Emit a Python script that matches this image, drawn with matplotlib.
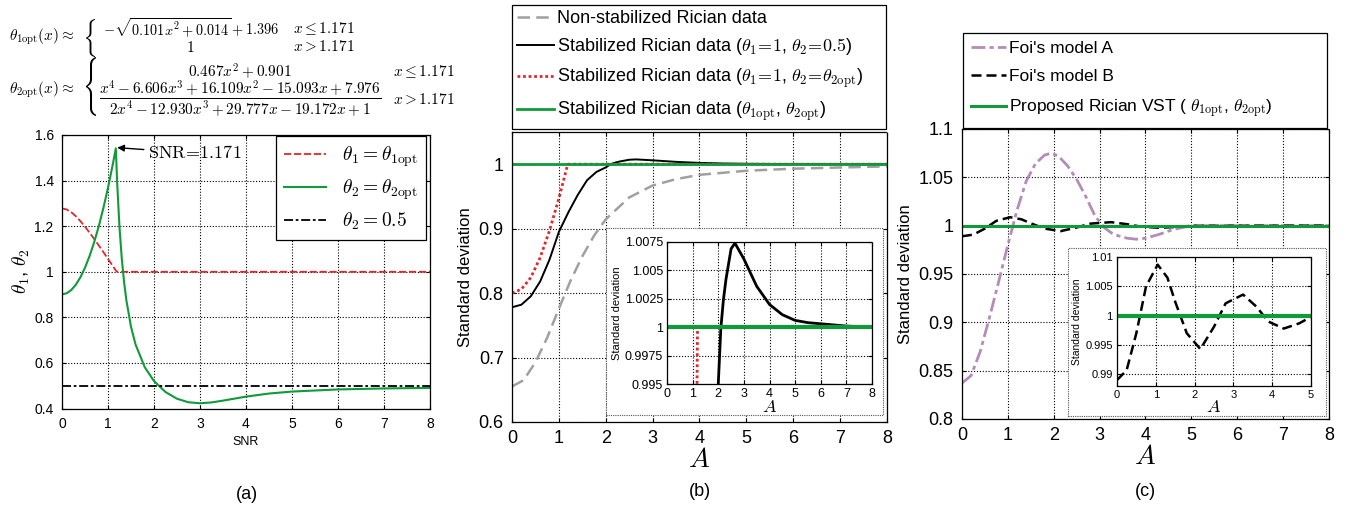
import matplotlib
matplotlib.use("Agg")
import matplotlib.pyplot as plt
from matplotlib.patches import Rectangle, PathPatch
from matplotlib.textpath import TextPath
from matplotlib.transforms import Affine2D, IdentityTransform
from matplotlib.ticker import FuncFormatter

plt.rcParams['font.family'] = ['Liberation Sans', 'DejaVu Sans']
plt.rcParams['mathtext.fontset'] = 'cm'

# ---- (a) optimal parameters vs SNR ----
snr_t1 = [0, 0.1, 0.2, 0.3, 0.4, 0.5, 0.6, 0.7, 0.8, 0.9, 1.0, 1.1, 1.171, 1.2, 8]
theta1_opt = [1.2777, 1.2735, 1.2617, 1.2440, 1.2223, 1.1979, 1.1716, 1.1440,
              1.1156, 1.0865, 1.0569, 1.0269, 1.0055, 1.0, 1.0]
snr_t2 = [0, 0.1, 0.2, 0.3, 0.4, 0.5, 0.6, 0.7, 0.8, 0.9, 1.0, 1.1, 1.171,
          1.2, 1.25, 1.3, 1.35, 1.4, 1.5, 1.6, 1.8, 2.0, 2.25, 2.5, 2.75, 3.0,
          3.25, 3.5, 4.0, 4.5, 5.0, 6.0, 7.0, 8.0]
theta2_opt = [0.901, 0.9057, 0.9197, 0.9430, 0.9757, 1.0178, 1.0691, 1.1298,
              1.1999, 1.2793, 1.368, 1.4661, 1.5414,
              1.3897, 1.1970, 1.0587, 0.9551, 0.8749, 0.7595, 0.6809, 0.5813,
              0.5209, 0.4728, 0.4433, 0.4277, 0.4234, 0.4270, 0.4349, 0.4525,
              0.4660, 0.4747, 0.4840, 0.4884, 0.4908]
snr_fixed = [0, 8]
theta2_fixed = [0.5, 0.5]

# ---- (b) standard deviation vs A ----
a_rice = [0, 0.25, 0.5, 0.75, 1.0, 1.25, 1.5, 1.75, 2.0, 2.5, 3.0, 3.5, 4.0, 5.0, 6.0, 7.0, 8.0]
std_rice = [0.6551, 0.6650, 0.6928, 0.7308, 0.7759, 0.8195, 0.8571, 0.8890, 0.9145,
            0.9484, 0.9669, 0.9768, 0.9835, 0.9898, 0.9930, 0.9949, 0.9965]
a_half = [0, 0.2, 0.4, 0.6, 0.8, 1.0, 1.2, 1.4, 1.6, 1.8, 2.0, 2.1, 2.2, 2.3, 2.5,
          2.65, 3.0, 3.5, 4.0, 4.5, 5.0, 5.5, 6.0, 7.0, 8.0]
std_half = [0.778, 0.782, 0.795, 0.818, 0.852, 0.895, 0.925, 0.952, 0.975, 0.988,
            0.9950, 0.9999, 1.0024, 1.0042, 1.0069, 1.0074, 1.0060, 1.0036, 1.0020,
            1.0011, 1.0006, 1.0004, 1.0003, 1.0001, 1.0000]
a_red = [0, 0.2, 0.4, 0.6, 0.8, 1.0, 1.1, 1.171, 1.19, 8]
std_red = [0.800, 0.806, 0.824, 0.855, 0.897, 0.947, 0.975, 0.995, 1.0, 1.0]
a_prop = [0, 8]
std_prop = [1.0, 1.0]

# ---- (c) comparison with Foi's models ----
a_foi_a = [0, 0.2, 0.4, 0.6, 0.8, 1.0, 1.2, 1.4, 1.6, 1.8, 1.95, 2.1, 2.3, 2.5,
           2.7, 2.9, 3.1, 3.3, 3.6, 3.8, 4.0, 4.3, 4.6, 5.0, 8.0]
std_foi_a = [0.837, 0.845, 0.870, 0.905, 0.942, 0.980, 1.016, 1.046, 1.064, 1.073,
             1.075, 1.072, 1.062, 1.048, 1.030, 1.010, 0.998, 0.991, 0.987, 0.986,
             0.987, 0.991, 0.996, 1.000, 1.000]
a_foi_b = [0, 0.25, 0.5, 0.75, 1.05, 1.3, 1.5, 1.8, 2.15, 2.5, 2.8, 3.25, 3.6,
           3.9, 4.3, 4.7, 5.0, 8.0]
std_foi_b = [0.9890, 0.9907, 0.9970, 1.0050, 1.0087, 1.0065, 1.0024, 0.9970,
             0.9943, 0.9981, 1.0021, 1.0036, 1.0015, 0.9990, 0.9978, 0.9987,
             0.9998, 1.0000]

red = '#e3262b'
green = '#109a3a'
gray = '#a0a0a0'
purple = '#b48cb8'
grid_kw = dict(color='black', linestyle=(0, (1, 1.6)), linewidth=0.8)

fig = plt.figure(figsize=(13.56, 5.05), dpi=100)


def style_axes(ax, size, pad=6):
    ax.grid(True, **grid_kw)
    ax.tick_params(direction='in', top=True, right=True, labelsize=size,
                   length=3, width=0.8, pad=pad)
    for s in ['top', 'right']:
        ax.spines[s].set_linestyle((0, (1, 1)))
    for s in ax.spines.values():
        s.set_linewidth(0.9)
    ax.yaxis.set_major_formatter(FuncFormatter(lambda v, p: '%g' % round(v, 6)))
    ax.xaxis.set_major_formatter(FuncFormatter(lambda v, p: '%g' % v))


def brace(x0, top, width, height):
    # tall thin curly brace, placed in pixel coords measured from the top-left
    tp = TextPath((0, 0), r'$\{$', size=20)
    ext = tp.get_extents()
    tr = (Affine2D().translate(-ext.x0, -ext.y0)
          .scale(width / ext.width, height / ext.height)
          .translate(x0, 505 - top - height))
    fig.add_artist(PathPatch(tr.transform_path(tp), transform=IdentityTransform(),
                             facecolor='black', edgecolor='none'))


# panel (a)
ax1 = fig.add_axes([0.0457, 0.1909, 0.2714, 0.5418])
ax1.plot(snr_t1, theta1_opt, color=red, lw=1.3, dashes=(4, 1.5), label=r'$\theta_1 = \theta_{1\mathrm{opt}}$')
ax1.plot(snr_t2, theta2_opt, color=green, lw=1.5, label=r'$\theta_2 = \theta_{2\mathrm{opt}}$')
ax1.plot(snr_fixed, theta2_fixed, color='black', lw=1.3, dashes=(5, 1.5, 1.5, 1.5), label=r'$\theta_2 = 0.5$')
ax1.set_xlim(0, 8)
ax1.set_ylim(0.4, 1.6)
ax1.set_yticks([0.4, 0.6, 0.8, 1.0, 1.2, 1.4, 1.6])
style_axes(ax1, 10)
ax1.set_xlabel('SNR', fontsize=9, labelpad=4)
ax1.set_ylabel(r'$\theta_1$, $\theta_2$', fontsize=14, labelpad=2)
leg1 = ax1.legend(loc='upper right', bbox_to_anchor=(0.988, 0.995), fontsize=14,
                  fancybox=False, edgecolor='black', framealpha=1, handlelength=2.2,
                  borderaxespad=0, labelspacing=0.45)
leg1.get_frame().set_linewidth(0.9)
ax1.annotate(r'$\mathrm{SNR}\!=\!1.171$', xy=(1.171, 1.545), xytext=(1.87, 1.52),
             fontsize=13, va='center',
             arrowprops=dict(arrowstyle='-|>', color='black', lw=1, shrinkA=1, shrinkB=1,
                             mutation_scale=10))
fig.text(0.182, 0.012, '(a)', fontsize=13, ha='center')

# formulas
fs = 11
fig.text(0.007, 0.927, r'$\theta_{1\mathrm{opt}}(x) \approx$', fontsize=fs, va='center')
brace(86, 19, 9, 38)
fig.text(0.076, 0.946, r'$-\sqrt{0.101x^2+0.014}+1.396$', fontsize=10.3, va='center')
fig.text(0.140, 0.906, r'$1$', fontsize=fs, va='center', ha='center')
fig.text(0.216, 0.944, r'$x \leq 1.171$', fontsize=fs, va='center')
fig.text(0.216, 0.908, r'$x > 1.171$', fontsize=fs, va='center')

fig.text(0.007, 0.822, r'$\theta_{2\mathrm{opt}}(x) \approx$', fontsize=fs, va='center')
brace(86, 57, 10, 59)
fig.text(0.177, 0.859, r'$0.467x^2 + 0.901$', fontsize=fs, va='center', ha='center')
fig.text(0.177, 0.804,
         r'$\dfrac{x^4 - 6.606x^3 + 16.109x^2 - 15.093x + 7.976}{2x^4 - 12.930x^3 + 29.777x - 19.172x + 1}$',
         fontsize=fs, va='center', ha='center')
fig.text(0.290, 0.859, r'$x \leq 1.171$', fontsize=fs, va='center')
fig.text(0.290, 0.802, r'$x > 1.171$', fontsize=fs, va='center')

# panel (b)
ax2 = fig.add_axes([0.3776, 0.1644, 0.2765, 0.5743])
l_rice, = ax2.plot(a_rice, std_rice, color=gray, lw=1.8, dashes=(5, 2.5), label='Non-stabilized Rician data')
l_half, = ax2.plot(a_half, std_half, color='black', lw=1.4,
                   label=r'Stabilized Rician data ($\theta_1\!=\!1$, $\theta_2\!=\!0.5$)')
l_red, = ax2.plot(a_red, std_red, color=red, lw=2, linestyle=(0, (1, 1)),
                  label=r'Stabilized Rician data ($\theta_1\!=\!1$, $\theta_2\!=\!\theta_{2\mathrm{opt}}$)')
l_prop, = ax2.plot(a_prop, std_prop, color=green, lw=2,
                   label=r'Stabilized Rician data ($\theta_{1\mathrm{opt}}$, $\theta_{2\mathrm{opt}}$)')
ax2.set_xlim(0, 8)
ax2.set_ylim(0.6, 1.05)
ax2.set_xticks(range(9))
ax2.set_yticks([0.6, 0.7, 0.8, 0.9, 1.0])
style_axes(ax2, 13)
ax2.set_xlabel(r'$A$', fontsize=20, labelpad=0)
ax2.set_ylabel('Standard deviation', fontsize=12, labelpad=4)
leg2 = fig.legend(handles=[l_rice, l_half, l_red, l_prop], loc='upper left',
                  bbox_to_anchor=(0.3776, 0.7525, 0.2758, 0.2375), mode='expand',
                  fontsize=13, fancybox=False, edgecolor='black', framealpha=1,
                  handlelength=2.0, handletextpad=0.2, borderaxespad=0, labelspacing=0.5,
                  borderpad=0.3)
leg2.get_frame().set_linewidth(0.9)
fig.text(0.516, 0.018, '(b)', fontsize=13, ha='center')

fig.add_artist(Rectangle((0.4469, 0.1782), 0.2043, 0.3703, transform=fig.transFigure,
                         facecolor='white', edgecolor='#555555', lw=0.8,
                         linestyle=(0, (1, 1)), zorder=2))
ax2i = fig.add_axes([0.4919, 0.2396, 0.1512, 0.2812], zorder=3)
ax2i.plot(a_red, std_red, color=red, lw=2, linestyle=(0, (1, 1)))
ax2i.plot(a_half, std_half, color='black', lw=2)
ax2i.plot(a_prop, std_prop, color=green, lw=3)
ax2i.set_xlim(0, 8)
ax2i.set_ylim(0.995, 1.0075)
ax2i.set_xticks(range(9))
ax2i.set_yticks([0.995, 0.9975, 1.0, 1.0025, 1.005, 1.0075])
style_axes(ax2i, 9, pad=3)
ax2i.set_xlabel(r'$A$', fontsize=13, labelpad=-1)
ax2i.set_ylabel('Standard deviation', fontsize=8, labelpad=2)

# panel (c)
ax3 = fig.add_axes([0.7094, 0.1703, 0.2707, 0.5743])
l_fa, = ax3.plot(a_foi_a, std_foi_a, color=purple, lw=2, dashes=(5, 1.5, 1.5, 1.5), label="Foi's model A")
l_fb, = ax3.plot(a_foi_b, std_foi_b, color='black', lw=1.8, dashes=(4, 2), label="Foi's model B")
l_pr, = ax3.plot(a_prop, std_prop, color=green, lw=2.2,
                 label=r'Proposed Rician VST ( $\theta_{1\mathrm{opt}}$, $\theta_{2\mathrm{opt}}$)')
ax3.set_xlim(0, 8)
ax3.set_ylim(0.8, 1.1)
ax3.set_xticks(range(9))
ax3.set_yticks([0.8, 0.85, 0.9, 0.95, 1.0, 1.05, 1.1])
style_axes(ax3, 13)
ax3.set_xlabel(r'$A$', fontsize=20, labelpad=0)
ax3.set_ylabel('Standard deviation', fontsize=12, labelpad=4)
leg3 = fig.legend(handles=[l_fa, l_fb, l_pr], loc='upper left',
                  bbox_to_anchor=(0.7102, 0.7624, 0.2684, 0.1723), mode='expand',
                  fontsize=12.5, fancybox=False, edgecolor='black', framealpha=1,
                  handlelength=2.0, handletextpad=0.2, borderaxespad=0, labelspacing=0.75,
                  borderpad=0.45)
leg3.get_frame().set_linewidth(0.9)
fig.text(0.845, 0.018, '(c)', fontsize=13, ha='center')

fig.add_artist(Rectangle((0.7876, 0.1762), 0.1903, 0.3327, transform=fig.transFigure,
                         facecolor='white', edgecolor='#555555', lw=0.8,
                         linestyle=(0, (1, 1)), zorder=2))
ax3i = fig.add_axes([0.8237, 0.2356, 0.1431, 0.2554], zorder=3)
ax3i.plot(a_foi_b, std_foi_b, color='black', lw=1.8, dashes=(4, 2))
ax3i.plot(a_prop, std_prop, color=green, lw=3)
ax3i.set_xlim(0, 5)
ax3i.set_ylim(0.988, 1.01)
ax3i.set_yticks([0.99, 0.995, 1.0, 1.005, 1.01])
style_axes(ax3i, 8, pad=3)
ax3i.set_xlabel(r'$A$', fontsize=13, labelpad=-1)
ax3i.set_ylabel('Standard deviation', fontsize=7.5, labelpad=2)

fig.savefig('out.png', dpi=100)
